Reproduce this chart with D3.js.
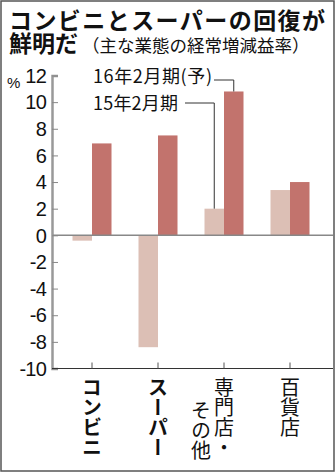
<!DOCTYPE html>
<html>
<head>
<meta charset="utf-8">
<script src="https://cdn.jsdelivr.net/npm/d3@7"></script>
<style>
	body { margin: 0; background: #fff; }
	svg { display: block; }
	text { font-family: "Noto Sans CJK JP", sans-serif; fill: #111; }
</style>
</head>
<body>
<div class="container"></div>
<script>

var categories = ["コンビニ", "スーパー", "専門店・その他", "百貨店"];
var catLines = [["コンビニ"], ["スーパー"], ["専門店・", "その他"], ["百貨店"]];
var series = ["15年2月期", "16年2月期(予)"];
var fy15 = [-0.4, -8.4, 2.0, 3.4];
var fy16 = [6.9, 7.5, 10.8, 4.0];
var yTicks = [12, 10, 8, 6, 4, 2, 0, -2, -4, -6, -8, -10];

var W = 336, H = 473;

function makeStage(w, h) {
	var stage = d3.select(".container")
		.append("svg")
		.attr("width", w)
		.attr("height", h);
	return stage;
}

var svg = makeStage(W, H);

// frame
svg.append("rect")
	.attr("x", 1).attr("y", 1)
	.attr("width", 333).attr("height", 470)
	.attr("fill", "none")
	.attr("stroke", "#555")
	.attr("stroke-width", 1.5);

// title
svg.append("text")
	.attr("x", 9).attr("y", 29)
	.style("font-size", "23px")
	.style("font-weight", "700")
	.attr("textLength", 316)
	.text("コンビニとスーパーの回復が");
var t2 = svg.append("text")
	.attr("x", 9).attr("y", 52);
t2.append("tspan")
	.style("font-size", "23px")
	.style("font-weight", "700")
	.text("鮮明だ");
t2.append("tspan")
	.style("font-size", "17.5px")
	.attr("dx", 4)
	.text("（主な業態の経常増減益率）");

var x = d3.scaleBand().domain(categories).range([59, 323]);
var xs = d3.scaleBand().domain(series).range([13.5, 52.5]);
var y = d3.scaleLinear().domain([-10, 12]).range([368.5, 75.5]);

// y axis
var yAxis = svg.append("g")
	.attr("transform", "translate(52,0)")
	.call(d3.axisRight(y).tickValues(yTicks).tickSize(6).tickFormat(""));
yAxis.select(".domain").attr("stroke", "#999").attr("stroke-width", 2.5);
yAxis.selectAll(".tick line").attr("stroke", "#888");

svg.selectAll(".ylab")
	.data(yTicks)
	.enter().append("text")
	.attr("class", "ylab")
	.attr("x", 46)
	.attr("y", function(d) { return y(d); })
	.attr("dy", "0.36em")
	.attr("text-anchor", "end")
	.style("font-family", "'Liberation Sans', Arial, sans-serif")
	.style("font-size", "20px")
	.style("letter-spacing", "-0.8px")
	.text(function(d) { return d; });

svg.append("text")
	.attr("x", 7).attr("y", 88)
	.style("font-family", "'Liberation Sans', Arial, sans-serif")
	.style("font-size", "15px")
	.text("%");

// bars
var rows = categories.map(function(c, i) {
	return [{cat: c, s: series[0], v: fy15[i]}, {cat: c, s: series[1], v: fy16[i]}];
});
var colors = {};
colors[series[0]] = "#dcbfb5";
colors[series[1]] = "#c2736d";

svg.selectAll(".grp")
	.data(rows)
	.enter().append("g")
	.attr("class", "grp")
	.attr("transform", function(d) { return "translate(" + x(d[0].cat) + ",0)"; })
	.selectAll("rect")
	.data(function(d) { return d; })
	.enter().append("rect")
	.attr("x", function(d) { return xs(d.s); })
	.attr("width", xs.bandwidth())
	.attr("y", function(d) { return y(Math.max(0, d.v)); })
	.attr("height", function(d) { return Math.abs(y(d.v) - y(0)); })
	.attr("fill", function(d) { return colors[d.s]; });

// zero line
svg.append("line")
	.attr("x1", 53).attr("x2", 333)
	.attr("y1", y(0)).attr("y2", y(0))
	.attr("stroke", "#888")
	.attr("stroke-width", 1.5);

// x axis
var xAxis = svg.append("g")
	.attr("transform", "translate(0," + y(-10) + ")")
	.call(d3.axisTop(x).tickSize(6).tickSizeOuter(0).tickFormat(""));
xAxis.select(".domain").attr("stroke", "#333").attr("d", "M52,0H333");
xAxis.selectAll(".tick line").attr("stroke", "#555");

// category labels, vertical
catLines.forEach(function(lines, i) {
	var cx = x(categories[i]) + x.bandwidth() / 2;
	lines.forEach(function(line, j) {
		svg.append("text")
			.attr("x", cx - j * 23)
			.attr("y", j === 0 ? 377 : 400)
			.style("writing-mode", "vertical-rl")
			.style("font-size", "20px")
			.style("font-weight", i < 2 ? "700" : "400")
			.text(line);
	});
});

// legend with leaders
var cat3 = categories[2];
var top16 = y(fy16[2]), top15 = y(fy15[2]);
var lx16 = x(cat3) + xs(series[1]) + xs.bandwidth() / 2;
var lx15 = x(cat3) + xs(series[0]) + xs.bandwidth() / 2;

svg.append("text")
	.attr("x", 93).attr("y", 83)
	.style("font-size", "18px")
	.attr("textLength", 119)
	.text(series[1]);
svg.append("text")
	.attr("x", 93).attr("y", 110)
	.style("font-size", "18px")
	.attr("textLength", 85)
	.text(series[0]);

svg.append("path")
	.attr("d", "M214,80H" + lx16 + "V" + top16)
	.attr("fill", "none").attr("stroke", "#333").attr("stroke-width", 1);
svg.append("path")
	.attr("d", "M185,103H" + lx15 + "V" + top15)
	.attr("fill", "none").attr("stroke", "#333").attr("stroke-width", 1);

</script>
</body>
</html>
